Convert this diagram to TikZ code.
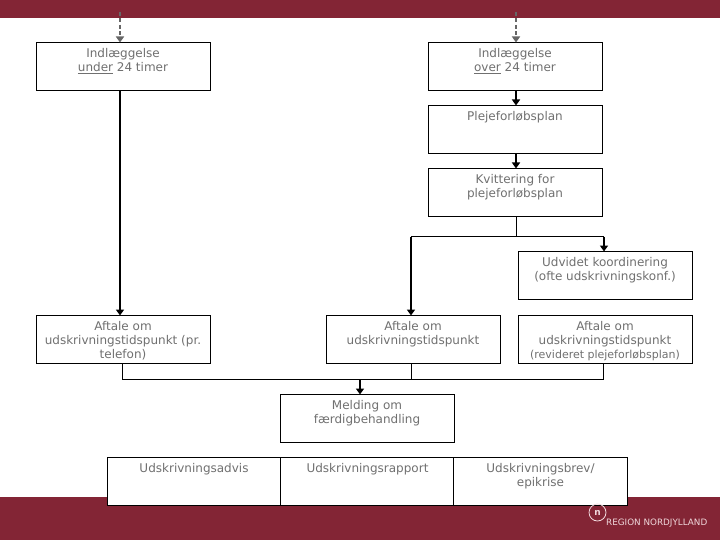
\documentclass[tikz,border=0pt]{standalone}
\usepackage{fontspec}
\setmainfont{DejaVu Sans}
\usetikzlibrary{arrows.meta}
\definecolor{band}{HTML}{832535}
\definecolor{txt}{HTML}{707070}
\definecolor{dash}{HTML}{666666}
\definecolor{logo}{HTML}{F0D8DC}
\newcommand{\bt}[1]{\parbox[t][46pt][t]{172pt}{\centering\vspace{5pt}\fontsize{12}{14}\selectfont #1}}
\tikzset{
  x=1pt,y=-1pt,
  flow/.style={draw=black,line width=1pt,fill=white,inner sep=0pt,outer sep=0pt,text=txt,minimum width=174pt,minimum height=48pt},
  tip/.style={-{Triangle[length=6pt,width=8pt]}},
  conn/.style={draw=black,line width=1pt},
  heavy/.style={conn,line width=2pt,tip},
  entry/.style={draw=dash,line width=2pt,dash pattern=on 4pt off 2.5pt,tip},
}
\begin{document}
\begin{tikzpicture}
\useasboundingbox (0,0) rectangle (720,540);
\fill[white] (0,0) rectangle (720,540);
\fill[band] (0,0) rectangle (720,18);
\fill[band] (0,497) rectangle (720,540);
\node[flow] (a) at (123,66.5) {\bt{Indlæggelse\\\underline{under} 24 timer}};
\node[flow] (b) at (515,66.5) {\bt{Indlæggelse\\\underline{over} 24 timer}};
\node[flow] (c) at (515,129.5) {\bt{Plejeforløbsplan}};
\node[flow] (d) at (515,192.5) {\bt{Kvittering for\\plejeforløbsplan}};
\node[flow] (e) at (605,275.5) {\bt{Udvidet koordinering\\(ofte udskrivningskonf.)}};
\node[flow] (f) at (123,339.5) {\bt{Aftale om\\udskrivningstidspunkt (pr.\\telefon)}};
\node[flow] (g) at (413,339.5) {\bt{Aftale om\\udskrivningstidspunkt}};
\node[flow] (h) at (605,339.5) {\bt{Aftale om\\udskrivningstidspunkt\\{\fontsize{11}{15}\selectfont (revideret plejeforløbsplan)}}};
\node[flow] (i) at (367,418.5) {\bt{Melding om\\færdigbehandling}};
\node[flow] (j) at (194,481) {\bt{Udskrivningsadvis}};
\node[flow] (k) at (367.5,481) {\bt{Udskrivningsrapport}};
\node[flow] (l) at (540.5,481) {\bt{Udskrivningsbrev/\\epikrise}};
\coordinate (ea) at (120,12);
\coordinate (eb) at (516,12);
\draw[entry] (ea) -- (ea |- a.north);
\draw[entry] (eb) -- (eb |- b.north);
\draw[heavy] (ea |- a.south) -- (ea |- f.north);
\draw[heavy] (eb |- b.south) -- (eb |- c.north);
\draw[heavy] (eb |- c.south) -- (eb |- d.north);
\coordinate (split) at (516.5,236.5);
\coordinate (gj) at (411,236.5);
\coordinate (ej) at (604,236.5);
\draw[conn] (split |- d.south) -- (split);
\draw[conn] (gj) -- (ej);
\draw[heavy] (gj) -- (gj |- g.north);
\draw[heavy] (ej) -- (ej |- e.north);
\coordinate (fj) at (122.5,379.5);
\coordinate (gb) at (411.5,379.5);
\coordinate (hj) at (603.5,379.5);
\coordinate (mj) at (360,379.5);
\draw[conn] (fj |- f.south) -- (fj) -- (hj) -- (hj |- h.south);
\draw[conn] (gb |- g.south) -- (gb);
\draw[heavy] (mj) -- (mj |- i.north);
\node[circle,draw=logo,line width=0.8pt,minimum size=17pt,inner sep=0pt,text=logo,font=\fontsize{9}{9}\selectfont\bfseries] (m) at (597.5,512.5) {n};
\node[anchor=west,text=logo,inner sep=0pt,font=\fontsize{8.8}{9}\selectfont] (r) at (606,523.5) {REGION NORDJYLLAND};
\end{tikzpicture}
\end{document}
